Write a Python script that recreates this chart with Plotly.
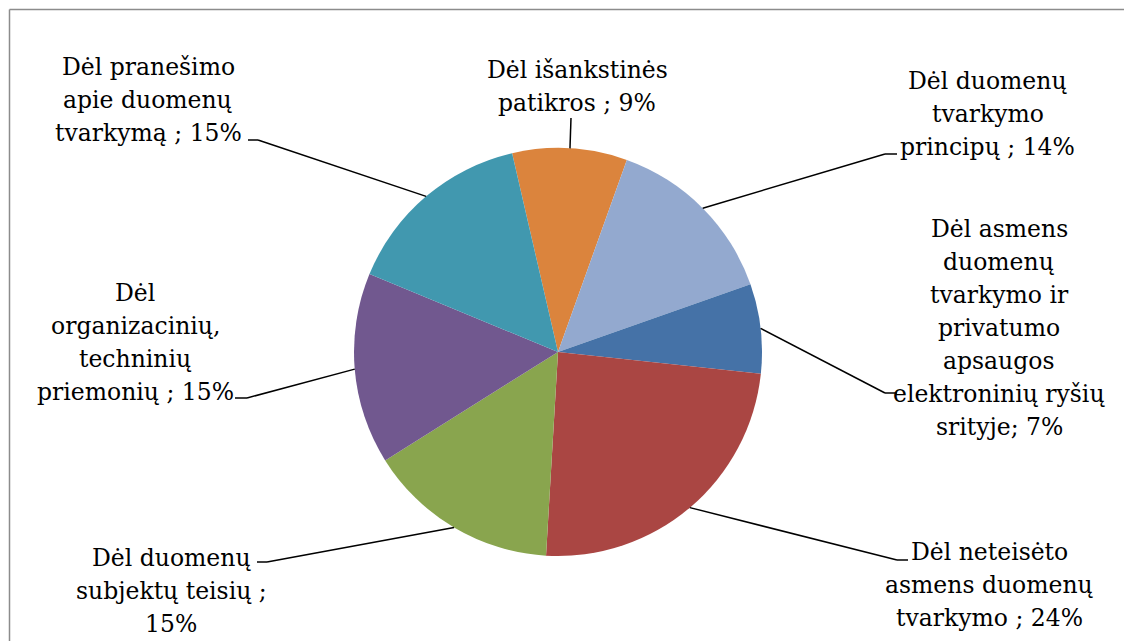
import math
import plotly.graph_objects as go

# ---- data ----
categories = [
    "Dėl išankstinės patikros",
    "Dėl duomenų tvarkymo principų",
    "Dėl asmens duomenų tvarkymo ir privatumo apsaugos elektroninių ryšių srityje",
    "Dėl neteisėto asmens duomenų tvarkymo",
    "Dėl duomenų subjektų teisių",
    "Dėl organizacinių, techninių priemonių",
    "Dėl pranešimo apie duomenų tvarkymą",
]
values = [9, 14, 7, 24, 15, 15, 15]
label_texts = [
    "Dėl išankstinės<br>patikros ; 9%",
    "Dėl duomenų<br>tvarkymo<br>principų ; 14%",
    "Dėl asmens<br>duomenų<br>tvarkymo ir<br>privatumo<br>apsaugos<br>elektroninių ryšių<br>srityje; 7%",
    "Dėl neteisėto<br>asmens duomenų<br>tvarkymo ; 24%",
    "Dėl duomenų<br>subjektų teisių ;<br>15%",
    "Dėl<br>organizacinių,<br>techninių<br>priemonių ; 15%",
    "Dėl pranešimo<br>apie duomenų<br>tvarkymą ; 15%",
]
colors = ["#DB843D", "#93A9CF", "#4572A7", "#AA4643", "#89A54E", "#71588F", "#4198AF"]

# ---- layout constants (pixels) ----
W, H = 1124, 641
CX, CY, R = 558, 352, 204
ROTATION = -13
LINE_GAP = 33
FONT = dict(family="DejaVu Serif", size=23.5, color="black")

# label block centres
label_pos = [(577, 86), (988, 114), (999, 328), (989, 585), (171, 591), (135, 342), (148, 100)]
# leader line: elbow point and end point (near label)
leader = [
    ((571, 118), (571, 118)),
    ((885, 154), (897, 154)),
    ((885, 393), (897, 393)),
    ((897, 560), (908, 560)),
    ((267, 562), (257, 562)),
    ((247, 398), (235, 398)),
    ((258, 140), (248, 140)),
]


def px(x):
    return x / W


def py(y):
    return 1 - y / H


fig = go.Figure()
fig.add_trace(go.Pie(
    labels=categories,
    values=values,
    marker=dict(colors=colors, line=dict(width=0)),
    sort=False,
    direction="clockwise",
    rotation=ROTATION,
    textinfo="none",
    hoverinfo="label+percent",
    showlegend=False,
    domain=dict(x=[px(CX - R), px(CX + R)], y=[py(CY + R), py(CY - R)]),
))

shapes = []
annotations = []
total = sum(values)
start = ROTATION
for i, v in enumerate(values):
    span = 360.0 * v / total
    mid = math.radians(start + span / 2)
    start += span
    ex = CX + R * math.sin(mid)
    ey = CY - R * math.cos(mid)
    (bx, by), (tx, ty) = leader[i]
    shapes.append(dict(type="line", xref="paper", yref="paper",
                       x0=px(ex), y0=py(ey), x1=px(bx), y1=py(by),
                       line=dict(color="black", width=1.5)))
    if (bx, by) != (tx, ty):
        shapes.append(dict(type="line", xref="paper", yref="paper",
                           x0=px(bx), y0=py(by), x1=px(tx), y1=py(ty),
                           line=dict(color="black", width=1.5)))
    lx, ly = label_pos[i]
    lines = label_texts[i].split("<br>")
    n = len(lines)
    for k, line in enumerate(lines):
        yk = ly + (k - (n - 1) / 2) * LINE_GAP
        annotations.append(dict(text=line, x=px(lx), y=py(yk), xref="paper", yref="paper",
                                xanchor="center", yanchor="middle", align="center",
                                showarrow=False, font=FONT))

# chart frame (left and top edges visible)
shapes.append(dict(type="line", xref="paper", yref="paper",
                   x0=px(9.5), y0=py(9.5), x1=px(W), y1=py(9.5),
                   line=dict(color="#8C8C8C", width=1.5)))
shapes.append(dict(type="line", xref="paper", yref="paper",
                   x0=px(9.5), y0=py(9.5), x1=px(9.5), y1=py(H),
                   line=dict(color="#8C8C8C", width=1.5)))

fig.update_layout(
    width=W, height=H,
    margin=dict(l=0, r=0, t=0, b=0),
    paper_bgcolor="white",
    plot_bgcolor="white",
    shapes=shapes,
    annotations=annotations,
    font=FONT,
)

fig.write_html(
    "out.html",
    config={"displayModeBar": False},
    post_script="document.body.style.margin='0';document.body.style.overflow='hidden';",
)
